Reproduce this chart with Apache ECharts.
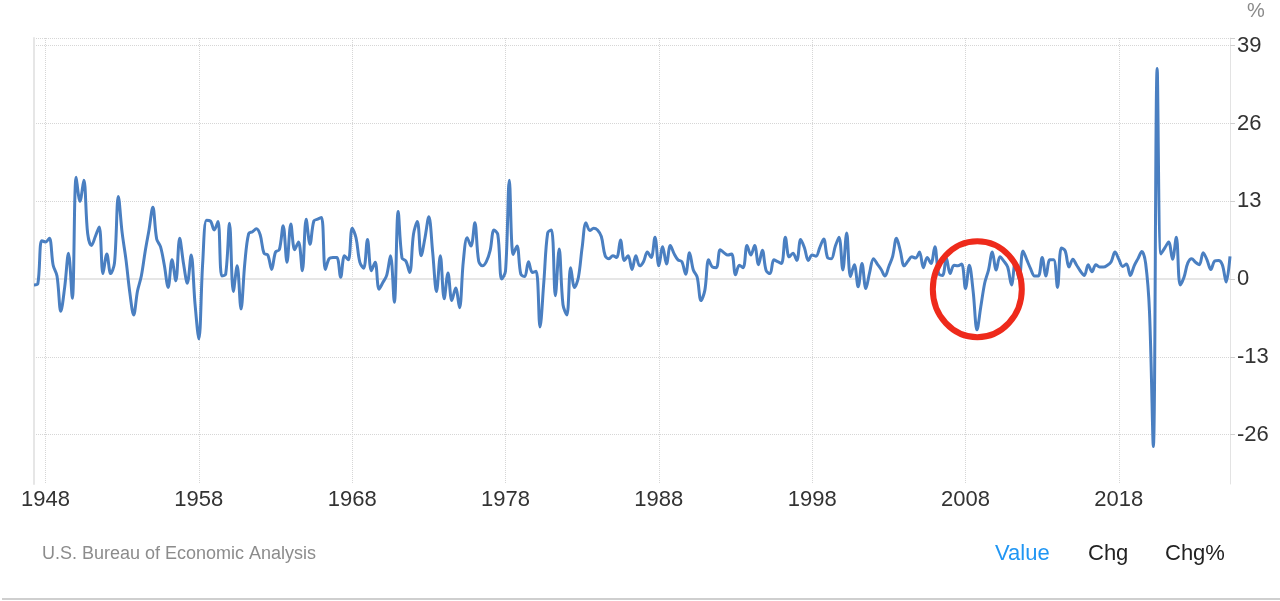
<!DOCTYPE html>
<html><head><meta charset="utf-8">
<script src="https://cdn.jsdelivr.net/npm/echarts@6/dist/echarts.min.js"></script>
<style>html,body{margin:0;padding:0;background:#fff}#chart{width:1280px;height:601px}</style>
</head><body><div id="chart"></div>
<script>
// US GDP growth rate, quarterly, annualized (%), 1947 Q2 .. 2025 Q2
const firstQuarter = 1947.25; // 1947 Q2 (quarter start)
const q1940s = [-1.0,-0.8,6.4, 6.2,6.8,2.3,0.5, -5.4,-1.4,4.3,-3.2];
const q1950s = [17.0,13.0,16.5,7.6, 5.6,7.1,8.7,0.9, 4.2,0.9,2.7,13.8, 7.7,3.2,-2.3,-6.0, -2.0,0.5,4.6,8.2,
                12.0,6.7,5.4,2.3, -1.4,3.2,-0.3,6.8, 2.6,-0.7,4.0,-4.1, -10.0,2.6,9.8,9.7, 8.2,9.6,0.5,0.8];
const q1960s = [9.3,-2.1,2.2,-5.0, 2.7,7.6,7.9,8.4, 7.4,4.3,4.0,1.6, 4.5,4.9,8.9,2.8, 9.2,4.9,6.2,1.4,
                10.0,5.8,9.7,10.0, 10.3,1.6,3.4,3.6, 3.6,0.3,3.9,3.2, 8.5,6.9,2.8,1.8, 6.6,1.4,2.8,-1.7];
const q1970s = [-0.6,0.6,3.9,-3.9, 11.3,3.5,3.0,1.1, 7.5,9.6,3.9,6.9, 10.4,4.5,-2.1,3.9, -3.3,1.0,-3.6,-1.5,
                -4.8,3.0,6.9,5.5, 9.4,3.0,2.2,2.9, 4.8,8.2,7.4,0.0, 1.3,16.5,4.1,5.5, 0.8,0.4,2.9,1.1];
const q1980s = [1.3,-8.0,-0.5,7.7, 8.2,-2.8,5.0,-4.3, -6.0,1.9,-1.4,0.2, 5.3,9.4,8.1,8.5, 8.2,7.1,3.9,3.4,
                3.9,3.6,6.5,3.1, 3.9,1.6,3.9,2.2, 2.9,4.5,3.6,7.0, 2.2,5.4,2.5,5.6, 4.2,3.2,2.9,0.8];
const q1990s = [4.4,1.5,0.3,-3.6, -1.9,3.2,2.0,1.9, 4.9,4.4,4.0,4.2, 0.7,2.3,1.9,5.6, 4.0,5.6,2.4,4.8,
                1.4,0.9,3.2,2.9, 2.6,7.0,3.7,4.3, 3.1,6.6,5.2,3.1, 4.0,3.8,5.3,6.7, 3.6,3.4,5.4,7.0];
const q2000s = [1.5,7.7,0.4,2.4, -1.3,2.6,-1.6,1.1, 3.4,2.5,1.6,0.5, 2.1,3.8,6.8,4.7, 2.2,3.0,3.7,3.5,
                4.5,1.9,3.6,2.6, 5.4,0.9,0.6,3.5, 0.9,2.3,2.2,2.5, -1.6,2.3,-2.1,-8.5, -4.6,-0.7,1.5,4.5];
const q2010s = [1.5,3.7,3.0,2.0, -1.0,2.9,-0.1,4.7, 3.2,1.7,0.5,0.5, 3.6,0.5,3.2,3.2, -1.4,5.2,4.7,2.0,
                3.3,2.3,1.3,0.6, 2.4,1.2,2.4,2.0, 2.0,2.3,2.9,4.5, 3.3,2.1,2.5,0.6, 2.2,3.4,4.6,2.6];
const q2020s = [-5.5,-28.0,35.2,4.2, 5.2,6.2,3.3,7.0, -1.0,0.3,2.7,3.4, 2.8,2.4,4.4,3.2, 1.6,3.0,3.1,2.4, -0.5,3.8];

const yearTicks = [1948,1958,1968,1978,1988,1998,2008,2018];
const valueTicks = [-26,-13,0,13,26,39];
const yMin = -34.26, yMax = 40.28;
const highlight = [2008.77, -1.7]; // circled 2008-09 recession (data coords)

const values = [].concat(q1940s,q1950s,q1960s,q1970s,q1980s,q1990s,q2000s,q2010s,q2020s);
const seriesData = values.map((v,i)=>[firstQuarter + i/4, v]);
const lastX = firstQuarter + (values.length-1)/4;

const FONT = '"Liberation Sans", Arial, Helvetica, sans-serif';
const baseGraphic = [
  {type:'text',left:1247,top:1,style:{text:'%',fill:'#8a8a8a',font:'20px '+FONT}},
  {type:'text',left:42,top:545,style:{text:'U.S. Bureau of Economic Analysis',fill:'#8c8c8c',font:'18px '+FONT}},
  {type:'text',left:995,top:543,style:{text:'Value',fill:'#2196f3',font:'22px '+FONT}},
  {type:'text',left:1088,top:543,style:{text:'Chg',fill:'#222',font:'22px '+FONT}},
  {type:'text',left:1165,top:543,style:{text:'Chg%',fill:'#222',font:'22px '+FONT}},
  {type:'line',shape:{x1:2,y1:599,x2:1280,y2:599},style:{stroke:'#cfcfcf',lineWidth:2}}
];
const chart = echarts.init(document.getElementById('chart'));
chart.setOption({
  animation:false,
  backgroundColor:'#fff',
  grid:{left:34,right:50,top:38,bottom:117},
  xAxis:{
    type:'value', min:firstQuarter, max:lastX,
    axisLine:{show:true,lineStyle:{color:'#e6e6e6',width:2}},
    axisTick:{show:false,customValues:yearTicks},
    axisLabel:{customValues:yearTicks,formatter:v=>String(Math.round(v)),color:'#333',fontSize:22,fontFamily:FONT,margin:5},
    splitLine:{show:true,lineStyle:{type:'dotted',color:'#d6d6d6',width:1}}
  },
  yAxis:[{
    type:'value', position:'right', min:yMin, max:yMax,
    axisLine:{show:true,lineStyle:{color:'#e3e3e3',width:1}},
    axisTick:{show:true,length:5,customValues:valueTicks.concat([yMax]),lineStyle:{color:'#d0d0d0'}},
    axisLabel:{customValues:valueTicks,color:'#333',fontSize:22,fontFamily:FONT,margin:7,padding:[0,0,8,0]},
    splitLine:{show:true,lineStyle:{type:'dotted',color:'#d6d6d6',width:1}}
  },{
    type:'value', position:'left', min:yMin, max:yMax,
    axisLine:{show:true,lineStyle:{color:'#e6e6e6',width:2}},
    axisTick:{show:false}, axisLabel:{show:false}, splitLine:{show:false}
  }],
  series:[{
    type:'line', yAxisIndex:0, data:seriesData, showSymbol:false, smooth:0.35,
    lineStyle:{color:'#4a7fc1',width:3}, itemStyle:{color:'#4a7fc1'}
  }],
  graphic:baseGraphic
});
const c = chart.convertToPixel({xAxisIndex:0,yAxisIndex:0}, highlight);
chart.setOption({graphic:baseGraphic.concat([
  {type:'ellipse',z:100,shape:{cx:c[0],cy:c[1],rx:44.5,ry:48},style:{fill:'none',stroke:'#ee2a1b',lineWidth:6}}
])}, {replaceMerge:['graphic']});
</script></body></html>
